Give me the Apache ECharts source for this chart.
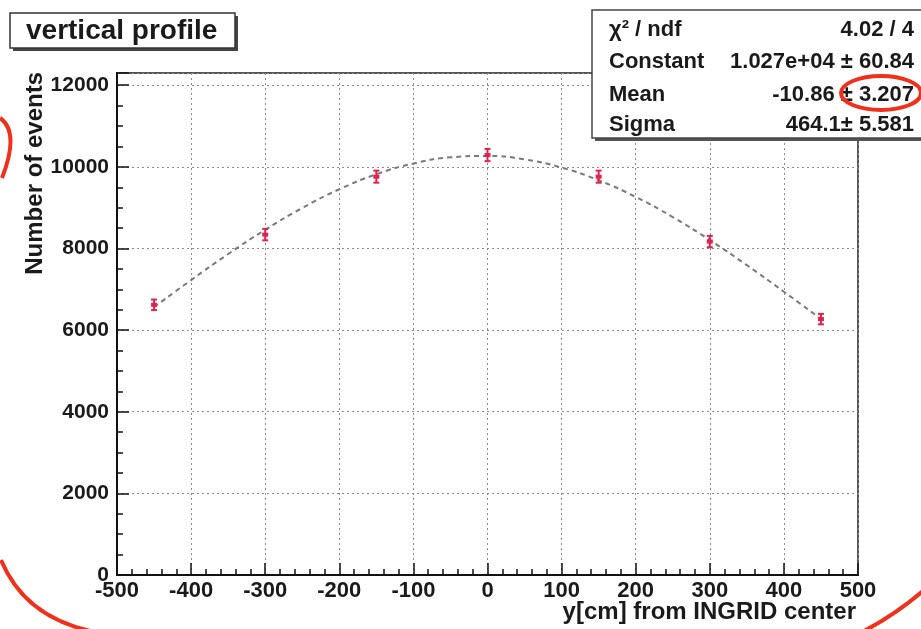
<!DOCTYPE html>
<html>
<head>
<meta charset="utf-8">
<script src="https://cdn.jsdelivr.net/npm/echarts@6/dist/echarts.min.js"></script>
<style>
html,body{margin:0;padding:0;background:#fff;}
#chart{width:921px;height:629px;}
</style>
</head>
<body>
<div id="chart"></div>
<script>
// ---- data ----
const binCenters = [-450, -300, -150, 0, 150, 300, 450];
const eventCounts = [6620, 8340, 9760, 10290, 9760, 8170, 6270];
const countErrors = [81, 91, 99, 101, 99, 90, 79];
const fitX = [-450, -400, -350, -300, -250, -200, -150, -100, -50, 0, 50, 100, 150, 200, 250, 300, 350, 400, 450];
const fitY = [6563, 7226, 7864, 8458, 8993, 9451, 9819, 10082, 10234, 10267, 10182, 9981, 9671, 9263, 8769, 8206, 7591, 6941, 6273];
const xTickLabels = [-500, -400, -300, -200, -100, 0, 100, 200, 300, 400, 500];
const yTickLabels = [0, 2000, 4000, 6000, 8000, 10000, 12000];
const statLabels = ['\u03c7\u00b2 / ndf', 'Constant', 'Mean', 'Sigma'];
const statValues = ['4.02 / 4', '1.027e+04 \u00b1 60.84', '-10.86 \u00b1 3.207', '464.1\u00b1 5.581'];
const titleText = 'vertical profile';
const xTitle = 'y[cm] from INGRID center';
const yTitle = 'Number of events';

const FONT = "'Liberation Sans', Arial, Helvetica, sans-serif";
const RED = '#f0301a';

const chart = echarts.init(document.getElementById('chart'));

const errData = binCenters.map((x, i) => [x, eventCounts[i], countErrors[i]]);
const fitData = fitX.map((x, i) => [x, fitY[i]]);

const labelStyle = { fontFamily: FONT, fontWeight: 'bold', color: '#1a1a1a' };

const statTexts = [];
statLabels.forEach((l, i) => {
  const cy = [30, 62, 95, 125][i];
  statTexts.push({ type: 'text', x: 609, y: cy, style: { text: l, font: 'bold 22px ' + FONT, fill: '#1a1a1a', textVerticalAlign: 'middle' }, z: 102 });
  statTexts.push({ type: 'text', x: 914, y: cy, style: { text: statValues[i], font: 'bold 22px ' + FONT, fill: '#1a1a1a', textAlign: 'right', textVerticalAlign: 'middle' }, z: 102 });
});

const option = {
  backgroundColor: '#ffffff',
  animation: false,
  grid: { left: 117, right: 63, top: 73, bottom: 54, show: true, borderColor: '#555', borderWidth: 2, backgroundColor: 'transparent' },
  xAxis: {
    type: 'value', min: -500, max: 500, interval: 100,
    axisLine: { show: true, onZero: false, lineStyle: { color: '#111', width: 2 } },
    axisTick: { show: true, inside: true, length: 12, lineStyle: { color: '#111', width: 1.5 } },
    minorTick: { show: true, splitNumber: 5, length: 6, lineStyle: { color: '#111', width: 1.5 } },
    splitLine: { show: true, lineStyle: { color: '#8a8a8a', width: 1, type: [2, 3] } },
    axisLabel: Object.assign({ margin: 5, fontSize: 22, showMinLabel: true, showMaxLabel: true,
      formatter: v => xTickLabels.indexOf(v) >= 0 ? String(v) : '' }, labelStyle)
  },
  yAxis: {
    type: 'value', min: 0, max: 12300, interval: 2000,
    axisLine: { show: true, onZero: false, lineStyle: { color: '#111', width: 2 } },
    axisTick: { show: true, inside: true, length: 12, lineStyle: { color: '#111', width: 1.5 } },
    minorTick: { show: true, splitNumber: 4, length: 6, lineStyle: { color: '#111', width: 1.5 } },
    splitLine: { show: true, lineStyle: { color: '#8a8a8a', width: 1, type: [2, 3] } },
    axisLabel: Object.assign({ margin: 8, fontSize: 21, showMaxLabel: false,
      formatter: v => yTickLabels.indexOf(v) >= 0 ? String(v) : '' }, labelStyle)
  },
  series: [
    {
      type: 'line', data: fitData, smooth: true, showSymbol: false, symbol: 'none',
      lineStyle: { color: '#7a7a7a', width: 2, type: [5, 4] }, z: 3
    },
    {
      type: 'custom', data: errData, z: 5,
      renderItem: function (params, api) {
        const x = api.value(0), y = api.value(1), e = api.value(2);
        const c = api.coord([x, y]);
        const t = api.coord([x, y + e]);
        const b = api.coord([x, y - e]);
        const st = { stroke: '#e0224e', lineWidth: 2 };
        return {
          type: 'group',
          children: [
            { type: 'line', shape: { x1: c[0], y1: t[1] - 2, x2: c[0], y2: b[1] + 2 }, style: st },
            { type: 'line', shape: { x1: c[0] - 3, y1: t[1] - 2, x2: c[0] + 3, y2: t[1] - 2 }, style: st },
            { type: 'line', shape: { x1: c[0] - 3, y1: b[1] + 2, x2: c[0] + 3, y2: b[1] + 2 }, style: st },
            { type: 'rect', shape: { x: c[0] - 3, y: c[1] - 2, width: 6, height: 4 }, style: { fill: '#e0224e' } }
          ]
        };
      }
    }
  ],
  graphic: [
    // title box
    { type: 'rect', shape: { x: 13, y: 16, width: 225, height: 35 }, style: { fill: '#444' }, z: 100 },
    { type: 'rect', shape: { x: 10, y: 13, width: 225, height: 35 }, style: { fill: '#fff', stroke: '#333', lineWidth: 1.5 }, z: 101 },
    { type: 'text', x: 26, y: 31, style: { text: titleText, font: 'bold 28px ' + FONT, fill: '#1a1a1a', textVerticalAlign: 'middle' }, z: 102 },
    // stats box
    { type: 'rect', shape: { x: 595, y: 13, width: 340, height: 128 }, style: { fill: '#555' }, z: 100 },
    { type: 'rect', shape: { x: 592, y: 10, width: 340, height: 128 }, style: { fill: '#fff', stroke: '#444', lineWidth: 1.5 }, z: 101 },
    ...statTexts,
    // axis titles
    { type: 'text', x: 35, y: 72, rotation: Math.PI / 2, style: { text: yTitle, font: 'bold 24px ' + FONT, fill: '#1a1a1a', textAlign: 'right', textVerticalAlign: 'middle' }, z: 102 },
    { type: 'text', x: 856, y: 612, style: { text: xTitle, font: 'bold 24px ' + FONT, fill: '#1a1a1a', textAlign: 'right', textVerticalAlign: 'middle' }, z: 102 },
    // red hand-drawn annotations
    { type: 'ellipse', shape: { cx: 881, cy: 93, rx: 40, ry: 17 }, style: { fill: 'none', stroke: RED, lineWidth: 4 }, z: 110 },
    { type: 'bezierCurve', shape: { x1: 0, y1: 118, cpx1: 20, cpy1: 132, x2: 2, y2: 178 }, style: { fill: 'none', stroke: RED, lineWidth: 4 }, z: 110 },
    { type: 'bezierCurve', shape: { x1: 1, y1: 560, cpx1: 25, cpy1: 618, x2: 95, y2: 632 }, style: { fill: 'none', stroke: RED, lineWidth: 4 }, z: 110 },
    { type: 'bezierCurve', shape: { x1: 924, y1: 590, cpx1: 895, cpy1: 615, x2: 862, y2: 632 }, style: { fill: 'none', stroke: RED, lineWidth: 4 }, z: 110 }
  ]
};

chart.setOption(option);
</script>
</body>
</html>
